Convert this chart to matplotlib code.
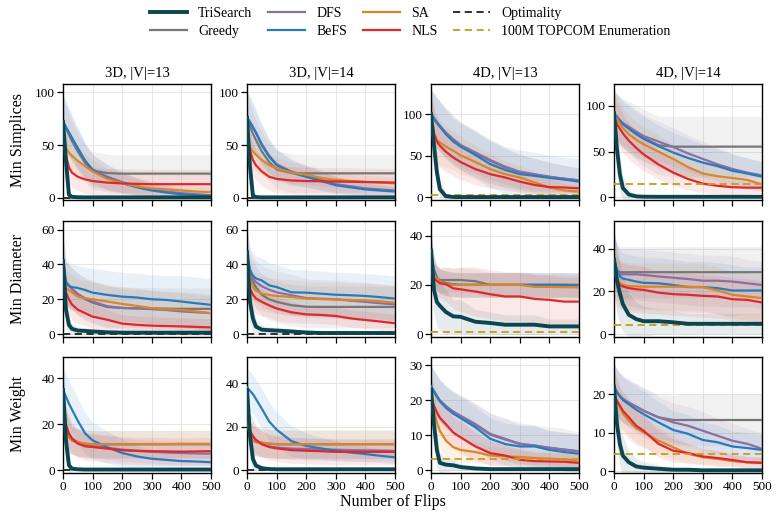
import numpy as np
import matplotlib
matplotlib.use("Agg")
import matplotlib.pyplot as plt
from matplotlib.lines import Line2D

plt.rcParams['font.family'] = ['Liberation Serif', 'DejaVu Serif']

# flips at which the curves were read
flips = [0, 10, 20, 30, 50, 75, 100, 150, 200, 250, 300, 350, 400, 450, 500]

names = ["TriSearch", "Greedy", "DFS", "BeFS", "SA", "NLS"]
colors = ["#0b4650", "#777777", "#8a6fa6", "#2a7abb", "#d8862a", "#e0282a"]

# row order in every block below: TriSearch, Greedy, DFS, BeFS, SA, NLS
simp_3d13 = [
    [72, 35, 3, 1, 0.6, 0.5, 0.5, 0.5, 0.5, 0.5, 0.5, 0.5, 0.5, 0.5, 0.5],
    [72, 66, 60, 54, 44, 33, 26, 23.5, 23, 23, 23, 23, 23, 23, 23],
    [72, 67, 62, 57, 47, 35, 27, 20, 15, 11, 8, 6, 4.5, 3.5, 2.5],
    [72, 67, 62, 57, 47, 35, 26, 19, 14, 10, 7, 5, 3.5, 2.5, 1.8],
    [55, 47, 43, 40, 35, 30, 25, 18, 14, 11, 9, 8, 7, 6, 5.5],
    [55, 40, 29, 24, 20, 17.5, 16, 14.5, 13.7, 13.3, 13, 13, 13, 13, 13],
]
simp_3d13_sd = [
    [25, 20, 5, 2, 1, 0.5, 0.5, 0.5, 0.5, 0.5, 0.5, 0.5, 0.5, 0.5, 0.5],
    [25, 22, 20, 19, 18, 18, 18, 18, 18, 18, 18, 18, 18, 18, 18],
    [25, 24, 22, 20, 18, 16, 14, 12, 10, 8, 7, 6, 5, 4, 3],
    [25, 24, 23, 22, 20, 17, 15, 12, 10, 8, 6, 5, 4, 3, 2],
    [20, 18, 17, 16, 14, 12, 11, 10, 9, 8, 7, 6, 6, 5, 5],
    [20, 17, 15, 14, 13, 13, 13, 13, 14, 14, 14, 14, 14, 14, 14],
]
simp_3d14 = [
    [76, 30, 2, 0.8, 0.5, 0.5, 0.5, 0.5, 0.5, 0.5, 0.5, 0.5, 0.5, 0.5, 0.5],
    [76, 68, 61, 55, 44, 34, 27, 23.5, 23.3, 23.3, 23.3, 23.3, 23.3, 23.3, 23.3],
    [76, 72, 67, 62, 51, 40, 32, 25, 21, 17, 13, 11, 9, 8, 7],
    [76, 72, 67, 62, 50, 39, 31, 24, 20, 16, 12, 10, 8, 7, 6],
    [65, 48, 44, 41, 36, 31, 28, 24, 22, 19, 17, 16, 15.3, 14.5, 13.7],
    [60, 45, 36, 31, 25, 20, 18, 16.5, 16, 15.8, 15.5, 15.3, 15, 14.8, 14.5],
]
simp_3d14_sd = [
    [25, 20, 5, 2, 1, 0.5, 0.5, 0.5, 0.5, 0.5, 0.5, 0.5, 0.5, 0.5, 0.5],
    [25, 22, 20, 19, 18, 18, 18, 18, 18, 18, 18, 18, 18, 18, 18],
    [25, 24, 22, 20, 18, 16, 14, 12, 10, 9, 8, 7, 6, 5, 4],
    [25, 24, 23, 22, 20, 17, 15, 12, 10, 9, 8, 7, 6, 5, 4],
    [20, 18, 17, 16, 14, 12, 11, 10, 9, 8, 7, 7, 6, 6, 6],
    [20, 17, 15, 14, 13, 13, 13, 13, 13, 13, 13, 13, 13, 13, 13],
]
simp_4d13 = [
    [100, 63, 30, 10, 1.5, 0.6, 0.5, 0.5, 0.5, 0.5, 0.5, 0.5, 0.5, 0.5, 0.5],
    [100, 94, 89, 85, 77, 69, 62, 53, 44, 36, 30, 27, 24.5, 22.5, 20.5],
    [100, 95, 90, 86, 78, 70, 63, 54, 45, 37, 31, 28, 25, 22.5, 20.5],
    [100, 95, 90, 85, 76, 67, 61, 51, 40, 33, 28, 26, 23.5, 21.5, 19],
    [100, 78, 69, 66, 61, 56, 50.5, 42.5, 34, 28, 24, 18, 12, 8.5, 7],
    [98, 76, 67, 62, 55, 48, 42.5, 34, 28, 24, 19, 15, 12.5, 12, 11],
]
simp_4d13_sd = [
    [30, 30, 20, 10, 3, 1, 0.5, 0.5, 0.5, 0.5, 0.5, 0.5, 0.5, 0.5, 0.5],
    [30, 30, 30, 30, 30, 30, 29, 28, 26, 24, 22, 20, 18, 16, 15],
    [30, 30, 30, 30, 29, 28, 27, 25, 23, 21, 20, 19, 17, 16, 15],
    [30, 30, 30, 30, 29, 28, 28, 28, 28, 28, 29, 28, 27, 27, 27],
    [30, 30, 28, 27, 25, 23, 22, 20, 18, 16, 14, 12, 10, 8, 7],
    [30, 30, 28, 26, 24, 22, 21, 19, 17, 15, 13, 11, 10, 10, 9],
]
simp_4d14 = [
    [92, 53, 25, 10, 3, 1, 0.6, 0.5, 0.5, 0.5, 0.5, 0.5, 0.5, 0.5, 0.5],
    [92, 88, 84, 81, 77, 71, 65, 57, 55.4, 55.4, 55.4, 55.4, 55.4, 55.4, 55.4],
    [92, 88, 84, 81, 77, 72, 67, 61, 55, 48, 42, 36, 31, 27, 24],
    [92, 88, 84, 80, 75, 69, 64, 56, 49, 43, 38, 34, 29, 26, 22.5],
    [90, 86, 80, 76, 69, 63, 58, 50, 42, 33, 26, 23, 21, 19, 14],
    [88, 80, 75, 70, 62, 54, 47, 36, 27, 20, 15, 12.5, 11, 10.5, 10.5],
]
simp_4d14_sd = [
    [25, 25, 20, 12, 5, 2, 1, 0.5, 0.5, 0.5, 0.5, 0.5, 0.5, 0.5, 0.5],
    [25, 25, 26, 27, 28, 30, 31, 32, 33, 33, 33, 33, 33, 33, 33],
    [25, 25, 25, 25, 25, 24, 23, 22, 21, 20, 19, 18, 17, 16, 15],
    [25, 25, 25, 25, 25, 25, 24, 23, 22, 21, 20, 19, 18, 17, 16],
    [25, 24, 23, 22, 21, 20, 19, 18, 16, 14, 12, 10, 9, 8, 7],
    [25, 23, 22, 21, 20, 19, 18, 16, 14, 12, 10, 9, 8, 7, 6],
]
diam_3d13 = [
    [42, 14, 5.3, 3, 2, 1.8, 1.5, 1, 0.8, 0.8, 0.8, 0.8, 0.8, 0.8, 0.8],
    [42, 30, 28, 26, 23, 20, 18, 15.5, 15, 14.8, 14.7, 14.6, 14.5, 14.5, 14.5],
    [42, 30, 28, 26, 23, 20.5, 18.7, 16, 15, 14.7, 14.3, 13.8, 13, 12.5, 12],
    [42, 29, 27.6, 27, 26.5, 25.3, 23.8, 22.5, 21.5, 21, 20, 19.6, 18.7, 17.7, 16.8],
    [35, 26.3, 25.3, 24, 21.5, 20.5, 20, 18.7, 17.3, 16.2, 14.9, 14.3, 13.9, 13, 12],
    [35, 24, 20, 17, 14, 12, 10, 8.2, 6, 5.3, 4.8, 4.6, 4.4, 4.1, 3.8],
]
diam_3d13_sd = [
    [15, 10, 5, 3, 2, 2, 1.5, 1, 1, 1, 1, 1, 1, 1, 1],
    [15, 12, 12, 12, 12, 12, 12, 12, 12, 12, 12, 12, 12, 12, 12],
    [15, 12, 12, 12, 12, 12, 12, 12, 11, 11, 11, 11, 11, 11, 11],
    [15, 13, 13, 13, 13, 13, 14, 14, 14, 14, 14, 14, 15, 15, 15],
    [13, 10, 10, 10, 10, 10, 10, 10, 10, 10, 10, 10, 10, 10, 10],
    [13, 10, 9, 9, 8, 7, 7, 6, 5, 5, 5, 5, 5, 5, 5],
]
diam_3d14 = [
    [47, 18.5, 9, 4.3, 2.5, 2.2, 2, 1.5, 0.9, 0.6, 0.6, 0.6, 0.6, 0.6, 0.6],
    [46, 34, 30, 27, 22.5, 20, 18.5, 16.6, 15.7, 15.6, 15.6, 15.6, 15.6, 15.6, 15.6],
    [46, 36, 32, 30, 27.5, 25.5, 24, 22.3, 20.7, 20.3, 20, 19.2, 18.5, 17.7, 17],
    [46, 37, 33.6, 32, 30.8, 28, 27, 24, 23.8, 23.2, 22.6, 22.3, 21.9, 21.2, 20.4],
    [40, 31.7, 27, 25, 23.2, 22.5, 21.9, 21.3, 20.4, 20.1, 19.8, 19.6, 19.4, 18.8, 18.1],
    [40, 26, 22.6, 20.5, 18.5, 16.5, 14.7, 12.5, 11.3, 11, 10.4, 9, 8.1, 7.2, 6.2],
]
diam_3d14_sd = [
    [15, 12, 8, 4, 2.5, 2, 2, 1.5, 1, 1, 1, 1, 1, 1, 1],
    [15, 12, 12, 12, 12, 12, 12, 12, 12, 12, 12, 12, 12, 12, 12],
    [15, 12, 12, 12, 12, 12, 12, 12, 11, 11, 11, 11, 11, 11, 11],
    [15, 13, 13, 13, 13, 13, 13, 13, 13, 13, 13, 13, 13, 13, 13],
    [13, 10, 10, 10, 10, 10, 10, 10, 10, 10, 10, 10, 10, 10, 10],
    [13, 10, 9, 9, 8, 7, 7, 6, 5, 5, 5, 5, 5, 5, 5],
]
diam_4d13 = [
    [34, 18, 13, 11.5, 9, 7.2, 7, 5, 4.5, 3.8, 3.8, 3.8, 3.1, 3.1, 3.1],
    [34, 25, 22.5, 22, 22, 22, 22, 21.5, 20, 20, 20, 20, 20, 20, 20],
    [34, 26, 23, 21.5, 20.7, 20.2, 20, 20, 20, 20, 20, 20, 20, 20, 20],
    [34, 26, 23, 21.5, 20.7, 20.2, 20, 20, 20, 20, 20, 20, 20, 20, 19.8],
    [30, 24, 22.7, 21.5, 20.5, 20, 20, 20, 20, 20, 20, 19.2, 19.2, 19.1, 19],
    [30, 22.7, 21.6, 20.7, 20.3, 18.6, 18.2, 17.3, 16.2, 15.3, 15.3, 14.3, 13.9, 13.2, 13.2],
]
diam_4d13_sd = [
    [10, 10, 10, 10, 9, 7, 7, 5, 4.5, 4, 4, 4, 3, 3, 3],
    [8, 6, 5, 5, 5, 5, 5, 5, 5, 5, 5, 5, 5, 5, 5],
    [8, 6, 5, 5, 5, 5, 5, 5, 5, 5, 5, 5, 5, 5, 5],
    [8, 6, 5, 5, 5, 5, 5, 5, 5, 5, 5, 5, 5, 5, 5],
    [8, 6, 5, 5, 5, 5, 5, 5, 5, 5, 5, 5, 5, 5, 5],
    [8, 6, 6, 6, 7, 8, 9, 10, 10, 10, 10, 10, 10, 10, 10],
]
diam_4d14 = [
    [35, 25, 19, 14, 9, 7, 6, 6, 5.5, 4.8, 4.8, 4.8, 4.8, 4.8, 4.8],
    [35, 30, 29, 29, 29, 29, 29, 29, 29, 29, 29, 29, 29, 29, 29],
    [35, 30, 28, 28, 28, 28, 27.7, 27, 26.4, 25.8, 25, 25, 24.6, 23.8, 23],
    [35, 30, 27, 26, 25.4, 24.6, 24, 23.8, 23, 22, 22, 21.5, 20.4, 20.4, 20.4],
    [30, 27, 23.8, 23, 22.5, 22.3, 22.2, 22.2, 22.2, 22.2, 22, 20.4, 18.4, 17.6, 16.8],
    [30, 24.6, 23, 22.3, 21.5, 21, 20.7, 19.4, 18.7, 18.4, 17.9, 17.6, 16.3, 16, 14.8],
]
diam_4d14_sd = [
    [15, 15, 15, 13, 10, 8, 7, 6, 5.5, 4.8, 4.8, 4.8, 4.8, 4.8, 4.8],
    [12, 12, 12, 12, 12, 12, 12, 12, 12, 12, 12, 12, 12, 12, 12],
    [12, 12, 12, 12, 12, 12, 12, 12, 12, 12, 12, 12, 12, 11, 11],
    [12, 12, 12, 12, 12, 12, 12, 12, 12, 12, 12, 12, 12, 11, 11],
    [12, 12, 11, 11, 11, 11, 11, 11, 11, 11, 11, 11, 11, 11, 11],
    [12, 12, 11, 11, 11, 11, 11, 10, 10, 10, 10, 10, 10, 10, 10],
]
wt_3d13 = [
    [35, 13, 2.2, 0.7, 0.4, 0.3, 0.3, 0.3, 0.3, 0.3, 0.3, 0.3, 0.3, 0.3, 0.3],
    [25, 17.4, 14.5, 13, 12, 11.5, 11.3, 11.3, 11.3, 11.3, 11.3, 11.3, 11.3, 11.3, 11.3],
    [35, 20, 16, 14, 12, 11, 10.5, 9.8, 9, 8.5, 8, 7.7, 7.5, 7.3, 7.2],
    [35, 32, 29, 26.5, 21.5, 16, 13, 10, 7.5, 6, 5, 4.5, 4, 3.8, 3.5],
    [25, 17.4, 14.5, 13, 12.3, 11.6, 11.3, 11.3, 11.3, 11.3, 11.4, 11.4, 11.5, 11.5, 11.5],
    [30, 19.7, 16, 13.8, 11.6, 10.4, 10.1, 9.4, 8.7, 8.4, 8.3, 8.2, 8.1, 8.2, 8.3],
]
wt_3d13_sd = [
    [10, 10, 4, 1, 0.5, 0.5, 0.5, 0.5, 0.5, 0.5, 0.5, 0.5, 0.5, 0.5, 0.5],
    [10, 8, 7, 6, 6, 6, 6, 6, 6, 6, 6, 6, 6, 6, 6],
    [10, 9, 8, 7, 6, 5, 5, 5, 5, 5, 5, 5, 5, 5, 5],
    [10, 10, 10, 10, 10, 9, 8, 7, 6, 5, 4, 4, 3.5, 3, 3],
    [10, 8, 7, 6, 6, 6, 6, 6, 6, 6, 6, 6, 6, 6, 6],
    [10, 8, 7, 6, 6, 6, 6, 6, 6, 6, 6, 6, 6, 6, 6],
]
wt_3d14 = [
    [37, 16, 5.2, 2.2, 1, 0.6, 0.5, 0.5, 0.5, 0.5, 0.5, 0.5, 0.5, 0.5, 0.5],
    [25, 15, 13.7, 13, 12.7, 12.2, 12, 12, 12, 12, 12, 12, 12, 12, 12],
    [38, 18, 15.5, 14, 12, 11, 10.5, 10, 9.8, 9.6, 9.5, 9.3, 9.2, 9.1, 9],
    [38, 36.5, 35, 32.8, 28.3, 22.4, 18.7, 13.4, 11.2, 10.1, 9, 8.2, 7.5, 6.7, 6],
    [25, 15, 13.7, 13.2, 12.7, 12.3, 12, 12, 12, 12, 12, 12, 12, 12, 12],
    [30, 18, 15.7, 14, 12, 10.7, 10.1, 9.3, 9, 8.8, 8.5, 8.5, 8.5, 8.5, 8.5],
]
wt_3d14_sd = [
    [10, 10, 5, 2, 1, 0.5, 0.5, 0.5, 0.5, 0.5, 0.5, 0.5, 0.5, 0.5, 0.5],
    [10, 7, 7, 6.5, 6.5, 6.5, 6.5, 6.5, 6.5, 6.5, 6.5, 6.5, 6.5, 6.5, 6.5],
    [10, 9, 8, 7, 6, 5, 5, 5, 5, 5, 5, 5, 5, 5, 5],
    [9, 9, 9, 9, 9, 9, 8, 7, 6, 5, 4.5, 4, 3.5, 3, 3],
    [10, 7, 7, 6.5, 6.5, 6.5, 6.5, 6.5, 6.5, 6.5, 6.5, 6.5, 6.5, 6.5, 6.5],
    [10, 8, 7, 6, 6, 6, 6, 6, 6, 6, 6, 6, 6, 6, 6],
]
wt_4d13 = [
    [23, 13.2, 5.7, 2.1, 1.6, 1.4, 0.9, 0.5, 0.3, 0.3, 0.3, 0.3, 0.3, 0.3, 0.3],
    [24, 22.5, 21, 19.7, 18.2, 16.5, 15.3, 13, 10.2, 8.8, 7.6, 7, 6.4, 5.9, 5.4],
    [24, 22.6, 21.2, 20, 18.4, 16.8, 15.6, 13.2, 10.4, 9, 7.5, 7.1, 6.4, 5.9, 5.4],
    [24, 22.6, 21.2, 19.8, 17.9, 16.2, 14.9, 12.3, 9, 7.5, 6.8, 6.8, 5.8, 5.2, 4.7],
    [20, 17, 13.7, 11.3, 8.5, 6.6, 5.8, 5.2, 4.2, 4, 3.8, 3.5, 3.3, 3.1, 2.8],
    [21, 18.4, 16.5, 15, 13.2, 10.8, 9.4, 6.8, 4.9, 4.2, 3, 2.6, 2.5, 2.4, 2.1],
]
wt_4d13_sd = [
    [6, 6, 5, 3, 2, 1.5, 1, 0.5, 0.5, 0.5, 0.5, 0.5, 0.5, 0.5, 0.5],
    [6, 6, 6, 6, 6, 6, 6, 6, 6, 6, 6, 6, 6, 6, 5.5],
    [6, 6, 6, 6, 6, 6, 6, 6, 6, 6, 5.5, 5.5, 5, 5, 5],
    [6, 6, 6, 6, 6, 6, 6, 6, 6, 6, 6, 6, 5.5, 5.5, 5.5],
    [6, 5.5, 5, 5, 4.5, 4, 3.5, 3, 2.5, 2.5, 2, 2, 2, 2, 2],
    [6, 5.5, 5, 5, 5, 4.5, 4.5, 4, 3.5, 3, 3, 2.5, 2.5, 2.5, 2.5],
]
wt_4d14 = [
    [22, 12.2, 7, 4, 2.3, 1.2, 0.9, 0.6, 0.35, 0.35, 0.2, 0.2, 0.2, 0.2, 0.2],
    [22, 20.5, 19.5, 18.8, 17.8, 16.8, 15.7, 14, 13.3, 13.3, 13.3, 13.3, 13.3, 13.3, 13.3],
    [22, 20.5, 19.5, 18.8, 17.8, 16.8, 15.7, 14, 12.7, 11.8, 10.5, 9.2, 7.9, 7.1, 5.8],
    [22, 20.5, 19.5, 18.5, 17.4, 16, 14.8, 12.7, 10.7, 9.7, 8.1, 7.5, 6.4, 6, 5.5],
    [20, 18.3, 16.6, 15, 13.1, 11.2, 10.1, 7.9, 6.2, 4.5, 3.6, 3.2, 2.6, 2.3, 2.3],
    [20, 18.3, 17, 15.7, 14, 11.8, 10.5, 7.1, 5.3, 4.7, 3.8, 3.4, 2.9, 2.3, 2.1],
]
wt_4d14_sd = [
    [6, 6, 6, 5, 3, 2, 1.5, 1, 0.6, 0.5, 0.5, 0.5, 0.5, 0.5, 0.5],
    [6, 6, 6, 6, 6, 6, 6, 6, 6.5, 6.7, 6.7, 6.7, 6.7, 6.7, 6.7],
    [6, 6, 6, 6, 6, 6, 6, 5.5, 5, 5, 5, 4.5, 4.5, 4, 4],
    [6, 6, 6, 6, 6, 6, 6, 5.5, 5, 5, 4.5, 4.5, 4, 4, 4],
    [6, 5.5, 5, 5, 5, 4.5, 4, 3.5, 3, 2.5, 2, 2, 1.5, 1.5, 1.5],
    [6, 5.5, 5, 5, 5, 4.5, 4, 3.5, 3, 2.5, 2, 2, 1.5, 1.5, 1.5],
]

# reference levels: Optimality for 3D, 100M TOPCOM enumeration for 4D
optimal_3d = 0
topcom_simp = [3, 14]
topcom_diam = [1, 4]
topcom_wt = [3.2, 4.5]

titles = ["3D, |V|=13", "3D, |V|=14", "4D, |V|=13", "4D, |V|=14"]
row_labels = ["Min Simplices", "Min Diameter", "Min Weight"]

panels = [
    [(simp_3d13, simp_3d13_sd), (simp_3d14, simp_3d14_sd), (simp_4d13, simp_4d13_sd), (simp_4d14, simp_4d14_sd)],
    [(diam_3d13, diam_3d13_sd), (diam_3d14, diam_3d14_sd), (diam_4d13, diam_4d13_sd), (diam_4d14, diam_4d14_sd)],
    [(wt_3d13, wt_3d13_sd), (wt_3d14, wt_3d14_sd), (wt_4d13, wt_4d13_sd), (wt_4d14, wt_4d14_sd)],
]
refs = [
    [("opt", optimal_3d), ("opt", optimal_3d), ("topcom", topcom_simp[0]), ("topcom", topcom_simp[1])],
    [("opt", optimal_3d), ("opt", optimal_3d), ("topcom", topcom_diam[0]), ("topcom", topcom_diam[1])],
    [("opt", optimal_3d), ("opt", optimal_3d), ("topcom", topcom_wt[0]), ("topcom", topcom_wt[1])],
]
ylims = [
    [(-2, 108), (-2, 108), (-3, 136), (-3, 124)],
    [(-1.7, 65), (-1.7, 65), (-1.2, 46), (-1.4, 53)],
    [(-1.2, 49.3), (-1.2, 52), (-0.8, 32.4), (-0.5, 29.7)],
]
yticks = [
    [[0, 50, 100]] * 4,
    [[0, 20, 40, 60], [0, 20, 40, 60], [0, 20, 40], [0, 20, 40]],
    [[0, 20, 40], [0, 20, 40], [0, 10, 20, 30], [0, 10, 20]],
]

fig = plt.figure(figsize=(7.77, 5.17), dpi=100)

lefts = [63, 247, 431, 614]
bottoms = [200, 337, 473]
W, H = 148, 116

x = np.array(flips)
for r in range(3):
    for c in range(4):
        ax = fig.add_axes([lefts[c] / 777, 1 - bottoms[r] / 517, W / 777, H / 517])
        means, sds = panels[r][c]
        for i in range(6):
            m = np.array(means[i])
            s = np.array(sds[i])
            ax.fill_between(x, m - s, m + s, color=colors[i], alpha=0.1, lw=0, zorder=1)
        for i in [1, 2, 3, 4, 5]:
            ax.plot(x, means[i], color=colors[i], lw=1.6, zorder=3)
        kind, val = refs[r][c]
        if kind == "opt":
            ax.axhline(val, color="#222222", ls="--", lw=1.3, dashes=(4, 2.5), zorder=4)
        else:
            ax.axhline(val, color="#c89b1a", ls="--", lw=1.3, dashes=(4, 2.5), zorder=4)
        ax.plot(x, means[0], color=colors[0], lw=2.8, zorder=5)

        ax.set_xlim(0, 500)
        ax.set_ylim(*ylims[r][c])
        ax.set_xticks([0, 100, 200, 300, 400, 500])
        ax.set_yticks(yticks[r][c])
        ax.grid(True, color="#e6e6e6", lw=0.7, zorder=0)
        ax.set_axisbelow(True)
        ax.tick_params(direction="out", length=4, width=0.9, labelsize=9.5, pad=2)
        for sp in ax.spines.values():
            sp.set_linewidth(1.0)
        if r < 2:
            ax.set_xticklabels([])
        if r == 0:
            ax.set_title(titles[c], fontsize=10.5, pad=5)

row_mid = [140, 279, 414]
for r in range(3):
    fig.text(18 / 777, 1 - row_mid[r] / 517, row_labels[r], rotation=90,
             ha="center", va="center", fontsize=11.5)
fig.text(393 / 777, 1 - 502 / 517, "Number of Flips", ha="center", va="center", fontsize=11.5)

handles = [
    Line2D([], [], color=colors[0], lw=2.8),
    Line2D([], [], color=colors[1], lw=1.6),
    Line2D([], [], color=colors[2], lw=1.6),
    Line2D([], [], color=colors[3], lw=1.6),
    Line2D([], [], color=colors[4], lw=1.6),
    Line2D([], [], color=colors[5], lw=1.6),
    Line2D([], [], color="#222222", lw=1.3, ls="--", dashes=(4, 2.5)),
    Line2D([], [], color="#c89b1a", lw=1.3, ls="--", dashes=(4, 2.5)),
]
labels = names + ["Optimality", "100M TOPCOM Enumeration"]
fig.legend(handles, labels, loc="upper center", bbox_to_anchor=(0.528, 1.01), ncol=4,
           frameon=False, fontsize=10, handlelength=2.7, handletextpad=0.8,
           columnspacing=1.1, labelspacing=0.35)

fig.savefig("out.png", dpi=100)
